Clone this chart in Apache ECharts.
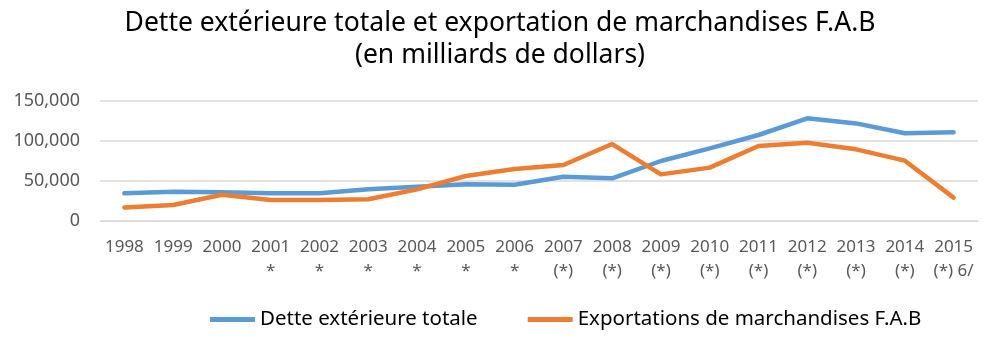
<!DOCTYPE html>
<html><head><meta charset="utf-8">
<script src="https://cdn.jsdelivr.net/npm/echarts@6/dist/echarts.min.js"></script>
<style>html,body{margin:0;padding:0;background:#fff}#c{width:1000px;height:347px}</style>
</head><body><div id="c"></div>
<script>
var categories = ['1998','1999','2000','2001\n*','2002\n*','2003\n*','2004\n*','2005\n*','2006\n*','2007\n(*)','2008\n(*)','2009\n(*)','2010\n(*)','2011\n(*)','2012\n(*)','2013\n(*)','2014\n(*)','2015\n(*) 6/'];
var detteTotale = [34600,36600,36000,34600,34600,39600,42900,46000,45400,55400,53300,75000,90800,107500,128300,122000,109600,110800];
var exportations = [17000,20000,32900,26200,26200,27100,39500,56200,65000,70000,96200,58300,66700,93700,97900,89600,75400,29200];
var seriesNames = ['Dette extérieure totale','Exportations de marchandises F.A.B'];
var titleText = 'Dette extérieure totale et exportation de marchandises F.A.B\n(en milliards de dollars)';

var font = 'Noto Sans';
var chart = echarts.init(document.getElementById('c'));
chart.setOption({
  animation: false,
  title: { text: titleText, left: 'center', top: 2,
    textStyle: { fontFamily: font, fontSize: 26.5, fontWeight: 'normal', color: '#000', lineHeight: 32 } },
  legend: { top: 304, left: 205, itemWidth: 45, itemHeight: 5, itemGap: 50, icon: 'rect',
    textStyle: { fontFamily: font, fontSize: 20.5, color: '#000' },
    data: seriesNames },
  grid: { left: 100, right: 22, top: 101, bottom: 126 },
  xAxis: { type: 'category', data: categories, boundaryGap: true,
    axisLine: { lineStyle: { color: '#d9d9d9' } }, axisTick: { show: false },
    axisLabel: { interval: 0, fontFamily: font, fontSize: 17, color: '#595959', lineHeight: 24, margin: 14 } },
  yAxis: { type: 'value', min: 0, max: 150000, interval: 50000,
    axisLine: { show: false }, axisTick: { show: false },
    splitLine: { lineStyle: { color: '#d9d9d9', width: 1.5 } },
    axisLabel: { fontFamily: font, fontSize: 18, color: '#595959', margin: 20,
      formatter: function (v) { return v.toLocaleString('en-US'); } } },
  series: [
    { name: seriesNames[0], type: 'line', data: detteTotale, symbol: 'none', itemStyle: { color: '#5B9BD5' },
      lineStyle: { color: '#5B9BD5', width: 4.5, cap: 'round', join: 'round' } },
    { name: seriesNames[1], type: 'line', data: exportations, symbol: 'none', itemStyle: { color: '#ED7D31' },
      lineStyle: { color: '#ED7D31', width: 4.5, cap: 'round', join: 'round' } }
  ]
});
</script></body></html>
